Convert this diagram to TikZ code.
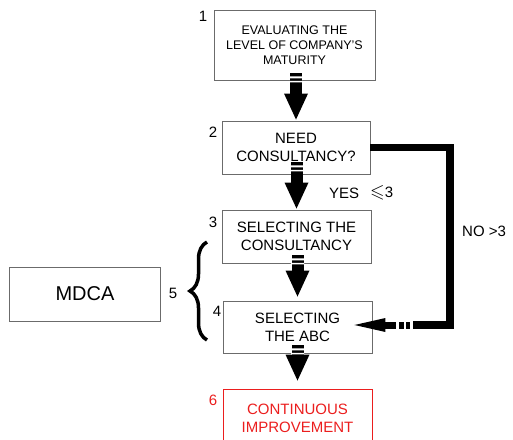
\documentclass[tikz,border=0pt]{standalone}
\usepackage{amssymb}
\usepackage{fontspec}
\setmainfont{Liberation Sans}
\usetikzlibrary{calc,decorations.pathreplacing}
\definecolor{boxgray}{gray}{0.42}
\definecolor{redc}{RGB}{235,30,30}
\tikzset{
  box/.style={draw=boxgray, line width=0.9pt, align=center, inner sep=0pt,
    font=\fontsize{15}{18}\selectfont},
  num/.style={font=\fontsize{15}{18}\selectfont, inner sep=0pt},
}
% vertical block arrow: from node #1 to node #2, start #3 above #1.south, tip #4 below #2.north
\newcommand\vblock[4]{%
  \fill let \p1=($(#1.south)+(0,-#3)$), \p2=($(#2.north)+(0,#4)$) in
    (\x2-6pt,\y1) rectangle (\x2+6pt,\y2+25pt);
  \fill let \p1=($(#1.south)+(0,-#3)$), \p2=($(#2.north)+(0,#4)$) in
    (\x2-12pt,\y2+26pt) -- (\x2+12pt,\y2+26pt) -- (\x2,\y2) -- cycle;
  \fill[white] let \p1=($(#1.south)+(0,-#3)$), \p2=($(#2.north)+(0,#4)$) in
    (\x2-6.5pt,\y1-3pt) rectangle (\x2+6.5pt,\y1-5pt)
    (\x2-6.5pt,\y1-7.5pt) rectangle (\x2+6.5pt,\y1-9pt);%
}
\begin{document}
\begin{tikzpicture}[x=1pt,y=-1pt]
\useasboundingbox (0,0) rectangle (513,439);
\clip (0,0) rectangle (513,439);

\node[box, minimum width=161pt, minimum height=70pt, font=\fontsize{12.5}{15}\selectfont]
  (b1) at (294.5,45) {EVALUATING THE\\LEVEL OF COMPANY'S\\MATURITY};
\node[box, minimum width=148pt, minimum height=53pt] (b2) at (296,147.5) {NEED\\CONSULTANCY?};
\node[box, minimum width=149pt, minimum height=53pt] (b3) at (296.5,236.5) {SELECTING THE\\CONSULTANCY};
\node[box, minimum width=149pt, minimum height=52pt] (b4) at (297.5,327) {SELECTING\\THE ABC};
\node[box, draw=redc, text=redc, minimum width=149pt, minimum height=58pt] (b6) at (297.5,418) {CONTINUOUS\\IMPROVEMENT};
\node[box, minimum width=151pt, minimum height=54pt, font=\fontsize{20}{24}\selectfont] (m) at (85,294) {MDCA};

\node[num] (n1) at (203,16) {1};
\node[num] (n2) at (213,132) {2};
\node[num] (n3) at (213,222) {3};
\node[num] (n4) at (217,311) {4};
\node[num] (n5) at (173,293) {5};
\node[num, text=redc] (n6) at (213,400) {6};

\node[num, anchor=west] (yes) at (329,193) {YES};
\node[num, anchor=west] (le) at (370,193) {\scalebox{1.25}{$\leqslant$}3};
\node[num, anchor=west] (no) at (462,231) {NO >3};

\vblock{b1}{b2}{7}{-1}
\vblock{b2}{b3}{12}{-1}
\vblock{b3}{b4}{8}{-4}
\vblock{b4}{b6}{8}{-8}

% NO path
\coordinate (nc) at (450,325);
\coordinate (ntip) at ($(b4.east)+(-18,-2)$);
\draw[line width=7.5pt, line join=miter] (b2.east) -| (nc) -- ($(ntip)+(59,0)$);
\fill (ntip) -- ++(31,-7) -- ++(0,14) -- cycle;
\fill ($(ntip)+(30,-3.5)$) rectangle ($(ntip)+(42,3.5)$);
\fill ($(ntip)+(45,-3.5)$) rectangle ($(ntip)+(50,3.5)$);
\fill ($(ntip)+(52,-3.5)$) rectangle ($(ntip)+(56,3.5)$);

% brace
\draw[decorate, decoration={brace, amplitude=17pt}, line width=3.5pt] (207,340) -- (207,242);
\end{tikzpicture}
\end{document}
